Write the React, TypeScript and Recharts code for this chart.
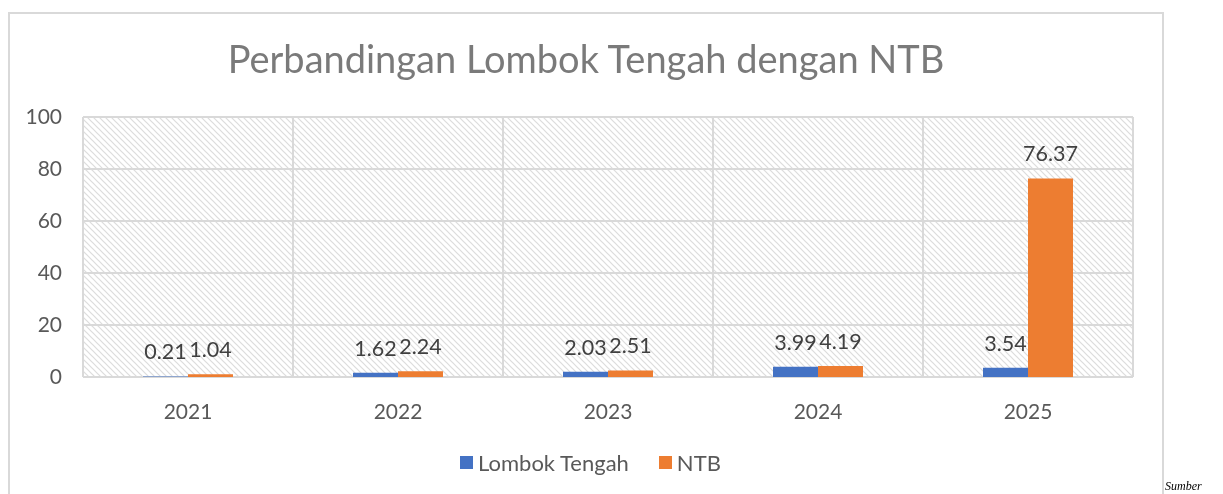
import { BarChart, Bar, XAxis, YAxis, CartesianGrid, Legend, LabelList } from "recharts";

const years = ["2021", "2022", "2023", "2024", "2025"];
const lombokTengah = [0.21, 1.62, 2.03, 3.99, 3.54];
const ntb = [1.04, 2.24, 2.51, 4.19, 76.37];
const yTicks = [0, 20, 40, 60, 80, 100];

const data = years.map((year, i) => ({
  year,
  lombok: lombokTengah[i],
  ntb: ntb[i],
}));

const FONT = "Lato, 'Open Sans', sans-serif";
const TEXT = "#595959";

function LegendContent({ payload }: any) {
  return (
    <div style={{ display: "flex", alignItems: "center", height: 30, marginLeft: 452, fontFamily: FONT, fontSize: 22, color: TEXT }}>
      {(payload || []).map((p: any, i: number) => (
        <div key={i} style={{ display: "flex", alignItems: "center", marginRight: 30 }}>
          <span style={{ width: 13, height: 13, background: p.color, display: "inline-block", marginRight: 5 }} />
          <span>{p.value}</span>
        </div>
      ))}
    </div>
  );
}

export default function App() {
  return (
    <div>
      <svg width={0} height={0} style={{ position: "absolute" }}>
        <defs>
          <pattern id="hatch" width={6} height={6} patternUnits="userSpaceOnUse">
            <rect width={6} height={6} fill="#ffffff" />
            <path d="M-1,-1 L7,7 M-1,5 L1,7 M5,-1 L7,1" stroke="#dcdcdc" strokeWidth={1.2} />
          </pattern>
        </defs>
      </svg>
      <div
        style={{
          position: "fixed",
          left: 8,
          top: 12,
          width: 1156,
          height: 600,
          border: "2px solid #d9d9d9",
          boxSizing: "border-box",
        }}
      />
      <div
        style={{
          position: "fixed",
          left: 8,
          top: 36,
          width: 1156,
          textAlign: "center",
          fontFamily: FONT,
          fontSize: 38,
          lineHeight: 1.2,
          color: "#7a7a7a",
        }}
      >
        Perbandingan Lombok Tengah dengan NTB
      </div>
      <div
        style={{
          position: "fixed",
          left: 1165,
          top: 479,
          fontFamily: "'Liberation Serif', serif",
          fontStyle: "italic",
          fontSize: 12,
          lineHeight: "14px",
          color: "#000",
        }}
      >
        Sumber
      </div>
      <div style={{ position: "fixed", left: 8, top: 8 }}>
        <BarChart
          width={1160}
          height={478}
          data={data}
          margin={{ top: 109, right: 35, left: 0, bottom: 9 }}
          barCategoryGap={60}
          barGap={0}
        >
          <CartesianGrid
            stroke="#d9d9d9"
            strokeWidth={2}
            fill="url(#hatch)"
            fillOpacity={1}
            verticalCoordinatesGenerator={({ offset }: any) =>
              Array.from({ length: years.length + 1 }, (_, i) => offset.left + (i * offset.width) / years.length)
            }
          />
          <XAxis
            dataKey="year"
            height={70}
            axisLine={false}
            tickLine={false}
            tickMargin={21}
            tick={{ fill: TEXT, fontSize: 21, fontFamily: FONT }}
          />
          <YAxis
            width={75}
            domain={[0, 100]}
            ticks={yTicks}
            axisLine={false}
            tickLine={false}
            tickMargin={15}
            tick={{ fill: TEXT, fontSize: 21, fontFamily: FONT }}
          />
          <Legend
            verticalAlign="bottom"
            wrapperStyle={{ height: 30 }}
            content={<LegendContent />}
          />
          <Bar dataKey="lombok" name="Lombok Tengah" fill="#4472C4" isAnimationActive={false}>
            <LabelList dataKey="lombok" position="top" offset={17} fill="#404040" fontSize={21.5} fontFamily={FONT} />
          </Bar>
          <Bar dataKey="ntb" name="NTB" fill="#ED7D31" isAnimationActive={false}>
            <LabelList dataKey="ntb" position="top" offset={17} fill="#404040" fontSize={21.5} fontFamily={FONT} />
          </Bar>
        </BarChart>
      </div>
    </div>
  );
}
